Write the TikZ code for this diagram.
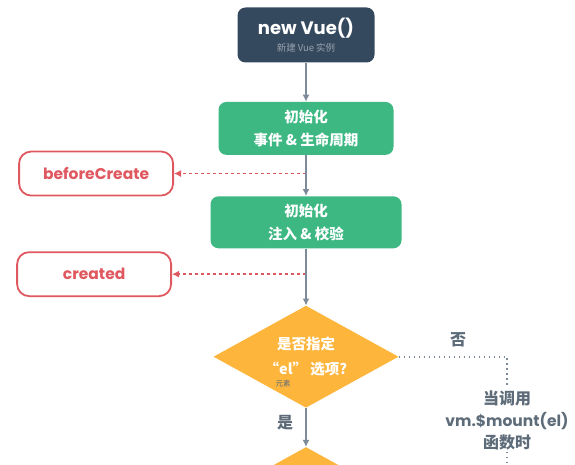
\documentclass[tikz,border=0pt]{standalone}
\usepackage{fontspec}
\setmainfont{Poppins}
\newfontfamily\cjk{Noto Sans CJK SC}
\usetikzlibrary{positioning,shapes.geometric,arrows.meta,calc}
\definecolor{vuenavy}{HTML}{35495E}
\definecolor{vuegreen}{HTML}{3DB883}
\definecolor{hookred}{HTML}{E0585F}
\definecolor{askorange}{HTML}{FDB53C}
\definecolor{flowgray}{HTML}{7D8A99}
\definecolor{notegray}{HTML}{5E6C7A}
\tikzset{
  stage/.style={rectangle,rounded corners=8pt,fill=vuegreen,text=white,
    align=center,font=\cjk\bfseries\fontsize{14.5}{23}\selectfont},
  hook/.style={rectangle,rounded corners=12pt,draw=hookred,line width=1.8pt,
    fill=white,text=hookred,minimum width=154pt,minimum height=44pt,
    font=\bfseries\fontsize{15.5}{18}\selectfont},
  ask/.style={diamond,fill=askorange,inner sep=0pt,
    minimum width=185pt,minimum height=102pt},
  asktext/.style={text=white,align=center,
    font=\cjk\bfseries\fontsize{14.5}{25}\selectfont},
  note/.style={text=notegray,align=center,
    font=\cjk\bfseries\fontsize{16}{22}\selectfont},
  flow/.style={color=flowgray,line width=2pt,-{Latex[length=7pt,width=7pt]}},
  hookline/.style={color=hookred,line width=1.8pt,dash pattern=on 3pt off 3pt,
    -{Latex[length=7pt,width=7pt]}},
  dotline/.style={draw=flowgray,line width=1.8pt,dash pattern=on 1.5pt off 3.5pt}
}
\begin{document}
\begin{tikzpicture}[x=1pt,y=-1pt]
  \useasboundingbox (0,0) rectangle (575,465);
  % main column
  \node (vue) [rectangle,rounded corners=8pt,fill=vuenavy,text=white,
    minimum width=137pt,minimum height=55pt,align=center] at (306,35)
    {{\bfseries\fontsize{18}{20}\selectfont new Vue()}\\[5pt]
     {\cjk\fontsize{9.5}{11}\selectfont\color{flowgray!80}新建 Vue 实例}};
  \node (init1) [stage,minimum width=175pt,minimum height=53pt,below=39pt of vue]
    {初始化\\事件 \& 生命周期};
  \node (init2) [stage,minimum width=191pt,minimum height=52pt,below=41pt of init1]
    {初始化\\注入 \& 校验};
  \node (hasel) [ask,below=57pt of init2] {};
  \node (askq) [asktext] at (hasel.center) {是否指定\\“el” 选项?};
  \node (elem) [text=notegray,font=\cjk\fontsize{7.5}{8}\selectfont]
    at ($(hasel.center)+(-23,27)$) {元素};
  \node (next) [ask,below=39pt of hasel] {};
  % hooks
  \coordinate (m1) at ($(init1.south)!0.45!(init2.north)$);
  \coordinate (m2) at ($(init2.south)!0.45!(hasel.north)$);
  \node (bc) [hook,left=132pt of m1] {beforeCreate};
  \node (cr) [hook,left=134pt of m2] {created};
  % side branch
  \node (mount) [note,inner sep=2pt] at (507,420)
    {当调用\\{\fontspec{Poppins}\bfseries\fontsize{15.5}{22}\selectfont vm.\$mount(el)}\\函数时};
  \coordinate (bottom) at (507,470);
  \node (no) [note] at (458,340) {否};
  \node (yes) [note] at (285,423) {是};
  % connectors
  \path[hookline] (m1) edge (bc);
  \path[hookline] (m2) edge (cr);
  \path[flow] (vue) edge (init1);
  \path[flow] (init1) edge (init2);
  \path[flow] (init2) edge (hasel);
  \path[flow] (hasel) edge (next);
  \draw[dotline] (hasel.east) -| (mount.north);
  \draw[dotline] (mount.south) -- (bottom);
\end{tikzpicture}
\end{document}
